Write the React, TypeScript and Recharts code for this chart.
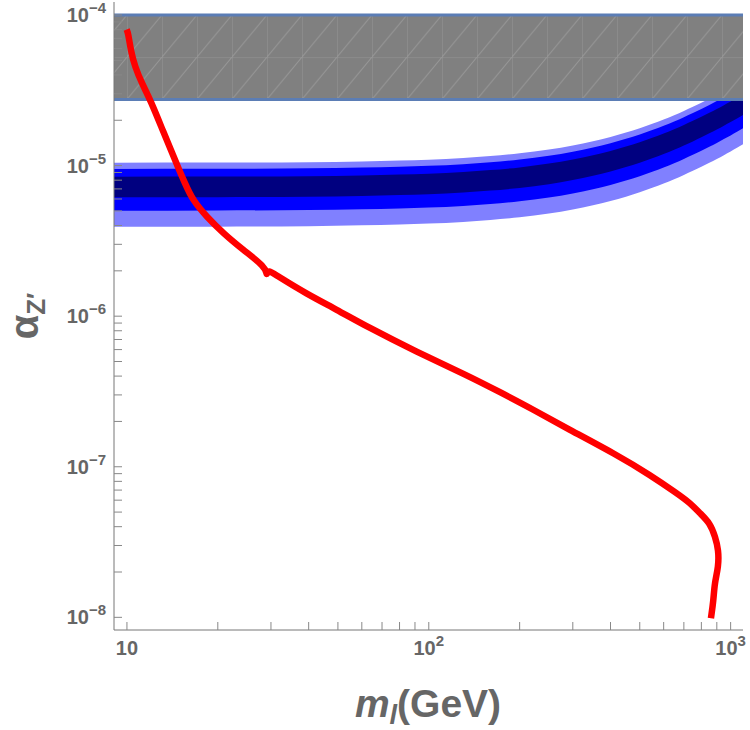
import { Area, ComposedChart, Label, Line, XAxis, YAxis } from "recharts";

// band grid (GeV) and the edges of the three blue bands
const massGrid = [9, 20, 40, 60, 80, 100, 130, 160, 200, 250, 300, 350, 400, 450, 500, 550, 600, 650, 700, 750, 800, 850, 900, 950, 1000, 1050, 1100];
const lightHigh = [1.044e-5, 1.047e-5, 1.054e-5, 1.066e-5, 1.079e-5, 1.095e-5, 1.123e-5, 1.156e-5, 1.206e-5, 1.278e-5, 1.359e-5, 1.45e-5, 1.549e-5, 1.656e-5, 1.771e-5, 1.894e-5, 2.023e-5, 2.161e-5, 2.305e-5, 2.455e-5, 2.613e-5, 2.775e-5, 2.945e-5, 3.122e-5, 3.303e-5, 3.491e-5, 3.684e-5];
const midHigh = [9.5e-6, 9.52e-6, 9.59e-6, 9.7e-6, 9.82e-6, 9.96e-6, 1.022e-5, 1.052e-5, 1.097e-5, 1.163e-5, 1.237e-5, 1.319e-5, 1.409e-5, 1.507e-5, 1.611e-5, 1.723e-5, 1.841e-5, 1.966e-5, 2.097e-5, 2.234e-5, 2.377e-5, 2.525e-5, 2.68e-5, 2.84e-5, 3.005e-5, 3.176e-5, 3.352e-5];
const darkHigh = [8.43e-6, 8.45e-6, 8.51e-6, 8.61e-6, 8.71e-6, 8.84e-6, 9.07e-6, 9.33e-6, 9.73e-6, 1.031e-5, 1.097e-5, 1.17e-5, 1.25e-5, 1.337e-5, 1.43e-5, 1.529e-5, 1.633e-5, 1.745e-5, 1.861e-5, 1.982e-5, 2.109e-5, 2.241e-5, 2.378e-5, 2.52e-5, 2.667e-5, 2.818e-5, 2.974e-5];
const darkLow = [6.16e-6, 6.17e-6, 6.22e-6, 6.29e-6, 6.37e-6, 6.46e-6, 6.62e-6, 6.82e-6, 7.11e-6, 7.53e-6, 8.01e-6, 8.55e-6, 9.13e-6, 9.77e-6, 1.044e-5, 1.117e-5, 1.193e-5, 1.274e-5, 1.359e-5, 1.448e-5, 1.541e-5, 1.637e-5, 1.737e-5, 1.841e-5, 1.948e-5, 2.058e-5, 2.172e-5];
const midLow = [5.01e-6, 5.03e-6, 5.07e-6, 5.12e-6, 5.19e-6, 5.26e-6, 5.4e-6, 5.55e-6, 5.79e-6, 6.14e-6, 6.53e-6, 6.96e-6, 7.44e-6, 7.96e-6, 8.51e-6, 9.1e-6, 9.72e-6, 1.038e-5, 1.107e-5, 1.179e-5, 1.255e-5, 1.333e-5, 1.415e-5, 1.5e-5, 1.587e-5, 1.677e-5, 1.77e-5];
const lightLow = [3.92e-6, 3.93e-6, 3.96e-6, 4.01e-6, 4.06e-6, 4.12e-6, 4.22e-6, 4.35e-6, 4.53e-6, 4.8e-6, 5.11e-6, 5.45e-6, 5.82e-6, 6.22e-6, 6.66e-6, 7.12e-6, 7.6e-6, 8.12e-6, 8.66e-6, 9.23e-6, 9.82e-6, 1.043e-5, 1.107e-5, 1.173e-5, 1.241e-5, 1.312e-5, 1.385e-5];

// excluded region (gray)
const excludedMass = [9, 1100];
const excludedLow = [2.75e-5, 2.75e-5];
const excludedHigh = [1e-4, 1e-4];

// red curve
const redMass = [9.98, 10.1, 10.29, 10.63, 11.21, 11.97, 13.26, 13.99, 14.74, 15.57, 16.51, 18.37, 20.86, 24.3, 28.68, 29.04, 29.04, 29.44, 30.95, 39.44, 49.5, 62.3, 91.2, 133.6, 172.2, 221.7, 286.5, 419.6, 541.5, 663.7, 734.6, 792.6, 855.6, 889, 912, 912, 884.5, 877.7, 860.5];
const redAlpha = [8.0e-5, 7.55e-5, 5.85e-5, 4.53e-5, 3.51e-5, 2.72e-5, 1.637e-5, 1.268e-5, 9.82e-6, 7.62e-6, 5.9e-6, 4.57e-6, 3.55e-6, 2.75e-6, 2.13e-6, 1.9e-6, 1.9e-6, 2.02e-6, 1.89e-6, 1.402e-6, 1.107e-6, 8.53e-7, 5.79e-7, 4.06e-7, 3.13e-7, 2.4e-7, 1.8e-7, 1.2e-7, 8.81e-8, 6.66e-8, 5.74e-8, 4.9e-8, 4.21e-8, 3.43e-8, 2.8e-8, 2.17e-8, 1.69e-8, 1.3e-8, 9.85e-9];

// axes
const xDomain = [9.06, 1099];
const yDomain = [8.24e-9, 1.22e-4];
const xMajor = [10, 100, 1000];
const xLabelSup = ["", "2", "3"];
const yMajor = [1e-8, 1e-7, 1e-6, 1e-5, 1e-4];
const yLabelSup = ["−8", "−7", "−6", "−5", "−4"];
const minorSteps = [2, 3, 4, 5, 6, 7, 8, 9];

const xTicks = [...xMajor];
xMajor.slice(0, 2).forEach((d) => minorSteps.forEach((k) => xTicks.push(d * k)));
const yTicks = [...yMajor];
yMajor.slice(0, 4).forEach((d) => minorSteps.forEach((k) => yTicks.push(d * k)));

const bandData = massGrid.map((m, i) => ({
  m,
  light: [lightLow[i], lightHigh[i]],
  mid: [midLow[i], midHigh[i]],
  dark: [darkLow[i], darkHigh[i]],
}));
const excludedData = excludedMass.map((m, i) => ({ m, gray: [excludedLow[i], excludedHigh[i]] }));
const redData = redMass.map((m, i) => ({ m, a: redAlpha[i] }));

const TEXT = "#666666";
const TICK = "#888888";
const FONT = "'Liberation Sans', Arial, sans-serif";

function XTick({ x, y, payload }: any) {
  const idx = xMajor.findIndex((v) => Math.abs(v - payload.value) < 1e-9);
  return (
    <g>
      <line x1={x} x2={x} y1={y} y2={y - 8} stroke={TICK} />
      {idx >= 0 && (
        <text x={x} y={y + 25} textAnchor="middle" fill={TEXT} fontFamily={FONT} fontWeight="bold" fontSize={20}>
          10
          {xLabelSup[idx] && (
            <tspan dy={-9} fontSize={15}>
              {xLabelSup[idx]}
            </tspan>
          )}
        </text>
      )}
    </g>
  );
}

function YTick({ x, y, payload }: any) {
  const idx = yMajor.findIndex((v) => Math.abs(v / payload.value - 1) < 1e-6);
  return (
    <g>
      <line x1={x} x2={x + 8} y1={y} y2={y} stroke={TICK} />
      {idx >= 0 && (
        <text x={x - 8} y={y + 7} textAnchor="end" fill={TEXT} fontFamily={FONT} fontWeight="bold" fontSize={20}>
          10
          <tspan dy={-9} fontSize={15}>
            {yLabelSup[idx]}
          </tspan>
        </text>
      )}
    </g>
  );
}

function XTitle() {
  return (
    <text x={428} y={717} textAnchor="middle" fill={TEXT} fontFamily={FONT} fontWeight="bold" fontSize={39}>
      <tspan fontStyle="italic">m</tspan>
      <tspan fontStyle="italic" fontSize={27} dy={7}>
        l
      </tspan>
      <tspan dy={-7}>(GeV)</tspan>
    </text>
  );
}

function YTitle() {
  return (
    <text transform="translate(38,316) rotate(-90)" textAnchor="middle" fill={TEXT} fontFamily={FONT} fontWeight="bold" fontSize={40}>
      <tspan>α</tspan>
      <tspan fontSize={26} dy={7}>
        Z′
      </tspan>
    </text>
  );
}

export default function App() {
  return (
    <div style={{ position: "absolute", left: 0, top: 0, width: 750, height: 730, background: "#fff" }}>
      <ComposedChart width={750} height={730} margin={{ top: 2, right: 7, bottom: 0, left: 0 }}>
        <defs>
          <pattern id="mesh" patternUnits="userSpaceOnUse" x={127} y={14.9} width={35} height={42.2}>
            <path d="M0 0 V42.2 M0 0 H35 M0 42.2 L35 0" stroke="rgba(255,255,255,0.18)" strokeWidth={1} fill="none" />
          </pattern>
        </defs>
        <XAxis
          type="number"
          dataKey="m"
          scale="log"
          domain={xDomain}
          allowDataOverflow
          ticks={xTicks}
          interval={0}
          tick={<XTick />}
          tickSize={0}
          tickMargin={0}
          tickLine={false}
          axisLine={{ stroke: "#777" }}
          height={100}
        >
          <Label content={() => <XTitle />} />
        </XAxis>
        <XAxis
          xAxisId="top"
          orientation="top"
          type="number"
          dataKey="m"
          scale="log"
          domain={xDomain}
          allowDataOverflow
          tick={false}
          tickLine={false}
          axisLine={{ stroke: "#aaa", strokeWidth: 1.5 }}
          height={0}
        />
        <YAxis
          type="number"
          scale="log"
          domain={yDomain}
          allowDataOverflow
          ticks={yTicks}
          interval={0}
          tick={<YTick />}
          tickSize={0}
          tickMargin={0}
          tickLine={false}
          axisLine={{ stroke: "#777" }}
          width={114}
        >
          <Label content={() => <YTitle />} />
        </YAxis>
        <YAxis
          yAxisId="right"
          orientation="right"
          type="number"
          scale="log"
          domain={yDomain}
          allowDataOverflow
          tick={false}
          tickLine={false}
          axisLine={{ stroke: "#aaa", strokeWidth: 1.5 }}
          width={0}
        />
        <Area data={bandData} dataKey="light" type="monotone" stroke="none" fill="#8080ff" fillOpacity={1} isAnimationActive={false} dot={false} activeDot={false} />
        <Area data={bandData} dataKey="mid" type="monotone" stroke="none" fill="#0000ff" fillOpacity={1} isAnimationActive={false} dot={false} activeDot={false} />
        <Area data={bandData} dataKey="dark" type="monotone" stroke="none" fill="#000080" fillOpacity={1} isAnimationActive={false} dot={false} activeDot={false} />
        <Area data={excludedData} dataKey="gray" type="linear" stroke="none" fill="#808080" fillOpacity={1} isAnimationActive={false} dot={false} activeDot={false} />
        <Area data={excludedData} dataKey="gray" type="linear" stroke="#5b7db5" strokeWidth={3} fill="url(#mesh)" fillOpacity={1} isAnimationActive={false} dot={false} activeDot={false} />
        <Line data={redData} dataKey="a" type="basis" stroke="#ff0000" strokeWidth={6.5} strokeLinejoin="round" dot={false} activeDot={false} isAnimationActive={false} />
      </ComposedChart>
    </div>
  );
}
